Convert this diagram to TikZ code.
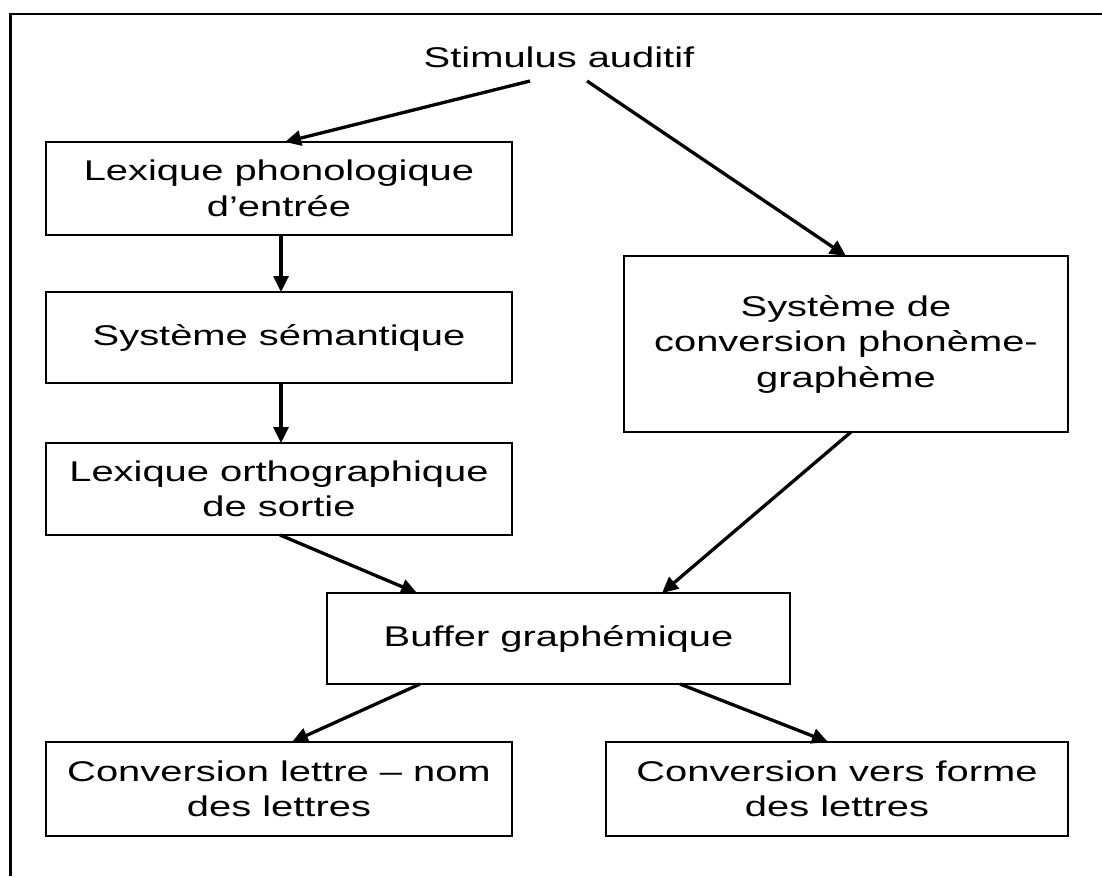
\documentclass[tikz,border=0pt]{standalone}
\usepackage{fontspec}
\setmainfont{Liberation Sans}[FakeStretch=1.4]
\usetikzlibrary{arrows.meta}
\begin{document}
\begin{tikzpicture}[x=1pt,y=-1pt,
  every node/.style={font=\fontsize{28.5}{35.5}\selectfont, align=center},
  stage/.style={draw, line width=2.8pt, inner sep=0pt, outer sep=0pt},
  link/.style={line width=3.3pt, -{Triangle[length=16pt,width=15pt]}}]
\useasboundingbox (0,0) rectangle (1102,876);

% frame edges
\draw[line width=2.6pt] (10.5,876) -- (10.5,14) -- (1102,14);

% stages
\node (stim) at (559,57) {Stimulus auditif};
\node[stage, minimum width=466pt, minimum height=93pt] (lexphon) at (279,188.5)
  {Lexique phonologique\\d’entrée};
\node[stage, minimum width=466pt, minimum height=91pt] (sem) at (279,337.5)
  {Système sémantique};
\node[stage, minimum width=466pt, minimum height=92pt] (lexorth) at (279,489)
  {Lexique orthographique\\de sortie};
\node[stage, minimum width=444pt, minimum height=176pt] (conv) at (846,344)
  {Système de\\conversion phonème-\\graphème};
\node[stage, minimum width=463pt, minimum height=91pt] (buffer) at (558.5,638.5)
  {Buffer graphémique};
\node[stage, minimum width=466pt, minimum height=94pt] (nom) at (279,789)
  {Conversion lettre – nom\\des lettres};
\node[stage, minimum width=462pt, minimum height=94pt] (forme) at (837,789)
  {Conversion vers forme\\des lettres};

% connections
\draw[link] ([xshift=-29pt,yshift=-10pt]stim.south) -- ([xshift=6pt]lexphon.north);
\draw[link] ([xshift=28pt,yshift=-10pt]stim.south) -- (conv.north);
\draw[link] ([xshift=2pt]lexphon.south) -- ([xshift=2pt]sem.north);
\draw[link] ([xshift=2pt]sem.south) -- ([xshift=2pt]lexorth.north);
\draw[link] ([xshift=1pt]lexorth.south) -- ([xshift=-141.5pt]buffer.north);
\draw[link] ([xshift=5pt]conv.south) -- ([xshift=103.5pt]buffer.north);
\draw[link] ([xshift=-138.5pt]buffer.south) -- ([xshift=13pt]nom.north);
\draw[link] ([xshift=121.5pt]buffer.south) -- ([xshift=-9pt]forme.north);
\end{tikzpicture}
\end{document}
